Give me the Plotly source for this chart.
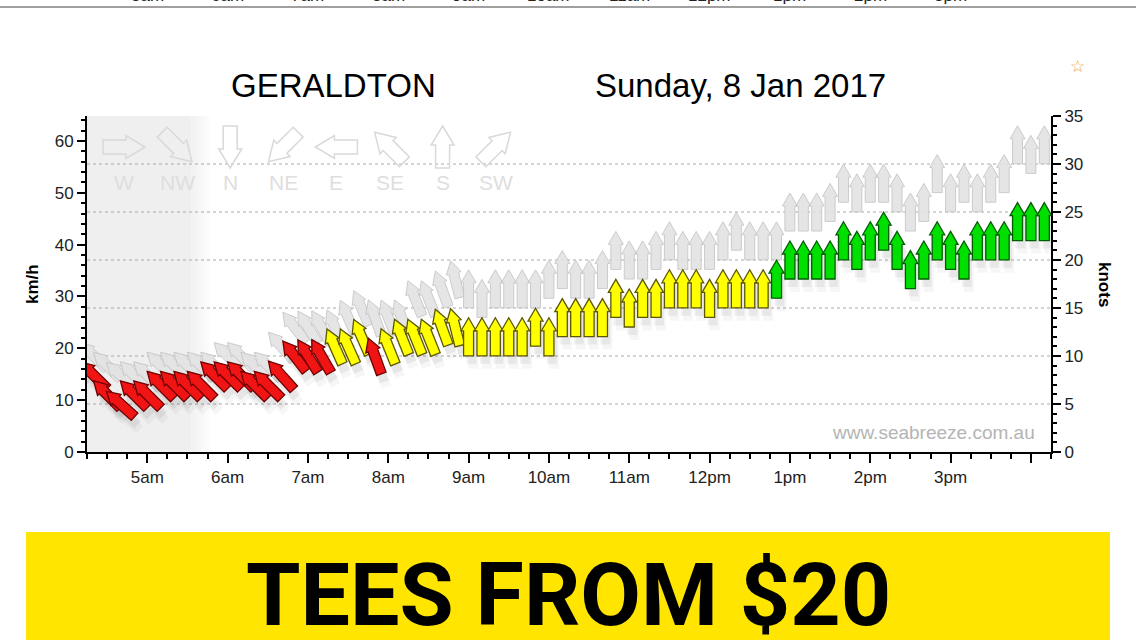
import numpy as np
import plotly.graph_objects as go

# wind readings every 10 minutes, Geraldton, Sunday 8 Jan 2017 (knots)
times = ["04:20", "04:30", "04:40", "04:50", "05:00", "05:10", "05:20", "05:30",
         "05:40", "05:50", "06:00", "06:10", "06:20", "06:30", "06:40", "06:50",
         "07:00", "07:10", "07:20", "07:30", "07:40", "07:50", "08:00", "08:10",
         "08:20", "08:30", "08:40", "08:50", "09:00", "09:10", "09:20", "09:30",
         "09:40", "09:50", "10:00", "10:10", "10:20", "10:30", "10:40", "10:50",
         "11:00", "11:10", "11:20", "11:30", "11:40", "11:50", "12:00", "12:10",
         "12:20", "12:30", "12:40", "12:50", "13:00", "13:10", "13:20", "13:30",
         "13:40", "13:50", "14:00", "14:10", "14:20", "14:30", "14:40", "14:50",
         "15:00", "15:10", "15:20", "15:30", "15:40", "15:50", "16:00", "16:10"]

avg_kn = [8, 6, 5, 6, 6, 7, 7, 7, 7, 8, 8, 8, 7, 7, 8, 10,
          10, 10, 11, 11, 12, 10, 11, 12, 12, 12, 13, 13, 12, 12, 12, 12,
          12, 13, 12, 14, 14, 14, 14, 16, 15, 16, 16, 17, 17, 17, 16, 17,
          17, 17, 17, 18, 20, 20, 20, 20, 22, 21, 22, 23, 21, 19, 20, 22,
          21, 20, 22, 22, 22, 24, 24, 24]

gust_kn = [10, 9, 8, 8, 8, 9, 9, 9, 9, 9, 10, 10, 9, 9, 11, 13,
           13, 13, 13, 14, 15, 14, 14, 14, 16, 16, 17, 18, 17, 16, 17, 17,
           17, 17, 18, 19, 18, 18, 19, 21, 20, 20, 21, 22, 21, 21, 21, 22,
           23, 22, 22, 22, 25, 25, 25, 26, 28, 27, 28, 28, 27, 25, 26, 29,
           27, 28, 27, 28, 29, 32, 31, 32]

# direction the wind blows from (degrees)
dir_deg = [135, 135, 132, 135, 135, 135, 135, 135, 135, 135, 135, 135, 135, 135, 138, 142,
           148, 150, 156, 156, 156, 160, 158, 158, 158, 158, 160, 166, 180, 180, 180, 180,
           180, 180, 180, 180, 180, 180, 180, 180, 180, 180, 180, 180, 180, 180, 180, 180,
           180, 180, 180, 180, 180, 180, 180, 180, 180, 180, 180, 180, 180, 180, 180, 180,
           180, 180, 180, 180, 180, 180, 180, 180]

hour_ticks = [5, 6, 7, 8, 9, 10, 11, 12, 13, 14, 15, 16]
hour_labels = ["5am", "6am", "7am", "8am", "9am", "10am", "11am", "12pm", "1pm", "2pm", "3pm", ""]
grid_kn = [5, 10, 15, 20, 25, 30]
legend_dirs = ["W", "NW", "N", "NE", "E", "SE", "S", "SW"]
legend_bearing = [90, 135, 180, 225, 270, 315, 0, 45]

sunrise = 5.55          # night shading solid until here, then fades
KMH_PER_KNOT = 1.852

W, H = 1136, 640
ML, MR, MT, MB = 87, 85, 116, 188
PW = W - ML - MR
PH = H - MT - MB

FONT = "Liberation Sans, Arial, sans-serif"


def px_x(px):
    return (px - ML) / PW


def px_y(py):
    return 1 - (py - MT) / PH


def to_hours(t):
    h, m = t.split(":")
    return int(h) + int(m) / 60


def arrow_path(bearing, length=38, head_len=13, head_hw=7.5, shaft_hw=5, dx=0, dy=0):
    half = length / 2
    pts = [(0, half), (head_hw, half - head_len), (shaft_hw, half - head_len),
           (shaft_hw, -half), (-shaft_hw, -half), (-shaft_hw, half - head_len),
           (-head_hw, half - head_len)]
    b = np.radians(bearing)
    c, s = np.cos(b), np.sin(b)
    out = []
    for x, y in pts:
        out.append(f"{x * c + y * s + dx:.2f},{-x * s + y * c + dy:.2f}")
    return "M" + " L".join(out) + " Z"


def speed_colors(k):
    if k <= 10:
        return "#f01414", "#6e0000"
    if k <= 17:
        return "#ffff00", "#5c5600"
    return "#00e000", "#005c00"


def label(text, x, y, size, color="#000", family=FONT, **kw):
    d = dict(text=text, xref="paper", yref="paper", x=px_x(x), y=px_y(y),
             xanchor="center", yanchor="middle", showarrow=False,
             font=dict(family=family, size=size, color=color))
    d.update(kw)
    return d


x_hours = [to_hours(t) for t in times]
pointing = [(d + 180) % 360 for d in dir_deg]
avg_kmh = [k * KMH_PER_KNOT for k in avg_kn]

shapes = []

# night shading with a soft edge
shapes.append(dict(type="rect", xref="x", yref="paper", x0=4.0, x1=sunrise, y0=0, y1=1,
                   fillcolor="#efefef", line=dict(width=0), layer="below"))
for i in range(8):
    shapes.append(dict(type="rect", xref="x", yref="paper",
                       x0=sunrise + i * 0.03, x1=sunrise + (i + 1) * 0.03, y0=0, y1=1,
                       fillcolor="#efefef", opacity=1 - (i + 1) / 9,
                       line=dict(width=0), layer="below"))

for g in grid_kn:
    shapes.append(dict(type="line", xref="paper", yref="y2", x0=0, x1=1, y0=g, y1=g,
                       line=dict(color="#a9a9a9", width=1, dash="dot"), layer="below"))

# direction key across the top
for i, (lab, b) in enumerate(zip(legend_dirs, legend_bearing)):
    cx = 124 + i * 53.1
    shapes.append(dict(type="path", xref="paper", yref="paper", xsizemode="pixel",
                       ysizemode="pixel", xanchor=px_x(cx), yanchor=px_y(147),
                       path=arrow_path(b, length=42, head_len=19, head_hw=11.5, shaft_hw=7),
                       fillcolor="rgba(0,0,0,0)", line=dict(color="#d9d9d9", width=1.5),
                       layer="above"))

# gust arrows
for x, k, b in zip(x_hours, gust_kn, pointing):
    shapes.append(dict(type="path", xref="x", yref="y2", xsizemode="pixel", ysizemode="pixel",
                       xanchor=x, yanchor=k, path=arrow_path(b),
                       fillcolor="#e3e3e3", opacity=0.9,
                       line=dict(color="#c6c6c6", width=1), layer="above"))

# soft shadows under the average arrows
for off_x, off_y, alpha in [(5, -13, 0.035), (3, -8, 0.06)]:
    for x, k, b in zip(x_hours, avg_kn, pointing):
        shapes.append(dict(type="path", xref="x", yref="y2", xsizemode="pixel",
                           ysizemode="pixel", xanchor=x, yanchor=k,
                           path=arrow_path(b, dx=off_x, dy=off_y),
                           fillcolor=f"rgba(0,0,0,{alpha})", line=dict(width=0),
                           layer="above"))

# average arrows
for x, k, b in zip(x_hours, avg_kn, pointing):
    fill, edge = speed_colors(k)
    shapes.append(dict(type="path", xref="x", yref="y2", xsizemode="pixel", ysizemode="pixel",
                       xanchor=x, yanchor=k, path=arrow_path(b),
                       fillcolor=fill, line=dict(color=edge, width=1.3), layer="above"))

# page bits around the chart
shapes.append(dict(type="line", xref="paper", yref="paper", x0=px_x(0), x1=px_x(W),
                   y0=px_y(7), y1=px_y(7), line=dict(color="#a0a0a0", width=2)))
shapes.append(dict(type="rect", xref="paper", yref="paper", x0=px_x(26), x1=px_x(1110),
                   y0=px_y(680), y1=px_y(532), fillcolor="#ffe500", line=dict(width=0)))

annotations = []
for i, lab in enumerate(legend_dirs):
    annotations.append(label(lab, 124 + i * 53.1, 182, 21, color="#dedede"))

annotations += [
    label("GERALDTON", 333, 85, 33),
    label("Sunday, 8 Jan 2017", 740, 85, 33),
    label("☆", 1077, 66, 17, color="#f0a040", family="DejaVu Sans"),
    label("<b>km/h</b>", 32, 284, 17, textangle=-90),
    label("<b>knots</b>", 1105, 284, 17, textangle=90),
    label("www.seabreeze.com.au", 1037, 432, 19, color="#b4b4b4", xanchor="right"),
    label("<b>TEES FROM $20</b>", 568, 541, 88, family="Roboto, Liberation Sans, Arial",
          yanchor="top"),
]
# labels of the chart above, cut off by the top of the page
for h, lab in zip(hour_ticks, hour_labels):
    annotations.append(dict(text=lab, xref="x", yref="paper", x=h, y=px_y(-4),
                            xanchor="center", yanchor="middle", showarrow=False,
                            font=dict(family=FONT, size=17, color="#222")))

fig = go.Figure()
fig.add_trace(go.Scatter(x=x_hours, y=avg_kmh, mode="markers", name="Average km/h",
                         marker=dict(size=12, opacity=0), text=times,
                         hovertemplate="%{text}  avg %{y:.0f} km/h<extra></extra>"))
fig.add_trace(go.Scatter(x=x_hours, y=gust_kn, yaxis="y2", mode="markers", name="Gust",
                         marker=dict(size=12, opacity=0), text=times,
                         hovertemplate="%{text}  gust %{y} kn<extra></extra>"))
fig.add_trace(go.Scatter(x=x_hours, y=avg_kn, yaxis="y2", mode="markers", name="Average",
                         marker=dict(size=12, opacity=0), text=times,
                         hovertemplate="%{text}  avg %{y} kn<extra></extra>"))

tickfont = dict(family=FONT, size=17, color="#222")
fig.update_layout(
    width=W, height=H,
    margin=dict(l=ML, r=MR, t=MT, b=MB, pad=0),
    paper_bgcolor="white", plot_bgcolor="white",
    showlegend=False,
    xaxis=dict(range=[4.25, 16.25], tickmode="array", tickvals=hour_ticks, ticktext=hour_labels,
               ticks="outside", ticklen=9, tickwidth=2, tickcolor="#000",
               showline=True, linecolor="#000", linewidth=2, showgrid=False, zeroline=False,
               tickfont=tickfont,
               minor=dict(tickmode="linear", tick0=0, dtick=0.25, ticks="outside",
                          ticklen=5, tickwidth=1.5, tickcolor="#000", showgrid=False)),
    yaxis=dict(range=[0, 35 * KMH_PER_KNOT], tickmode="linear", tick0=0, dtick=10,
               ticks="outside", ticklen=8,
               tickwidth=2, tickcolor="#000", showline=True, linecolor="#000", linewidth=2,
               showgrid=False, zeroline=False, tickfont=tickfont,
               minor=dict(dtick=2, ticks="outside", ticklen=4, tickwidth=1.5, tickcolor="#000")),
    yaxis2=dict(range=[0, 35], dtick=5, overlaying="y", side="right", ticks="outside",
                ticklen=8, tickwidth=2, tickcolor="#000", showline=True, linecolor="#000",
                linewidth=2, showgrid=False, zeroline=False, tickfont=tickfont,
                minor=dict(dtick=1, ticks="outside", ticklen=4, tickwidth=1.5, tickcolor="#000")),
    shapes=shapes,
    annotations=annotations,
)

fig.write_html("out.html", config={"displayModeBar": False},
               post_script="document.body.style.margin='0';document.body.style.overflow='hidden';")
